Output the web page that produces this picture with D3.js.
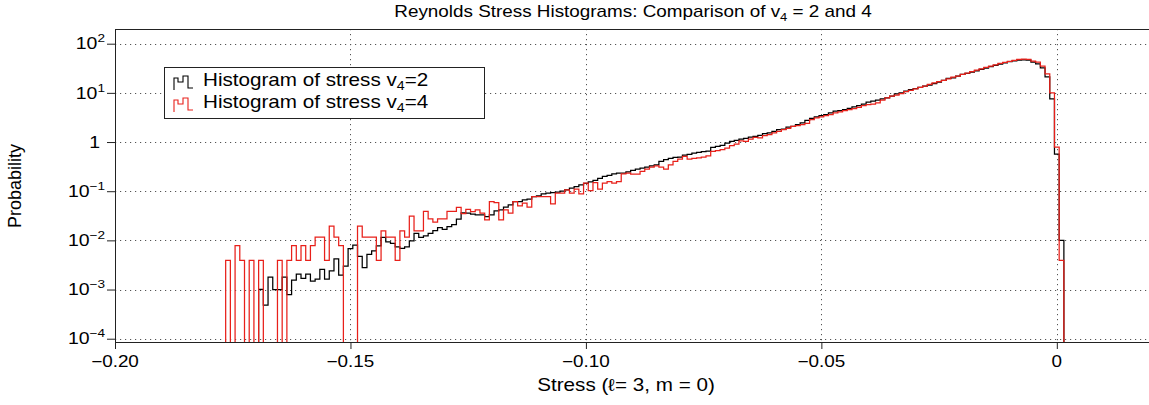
<!DOCTYPE html>
<html>
<head>
<meta charset="utf-8">
<script src="https://cdn.jsdelivr.net/npm/d3@7"></script>
<style>
body { margin: 0; background: #fff; }
text { font-family: "Liberation Sans", Arial, Helvetica, sans-serif; fill: #000; }
</style>
</head>
<body>
<svg width="1149" height="405"></svg>
<script>
// bins are 0.001 wide, centred on multiples of 0.001 (first bin centre -0.176)
var binStart = -0.1765;
var binWidth = 0.001;

// v4 = 2 (black), one value per bin
var stressV2 = [
  0, 0, 0, 0, 0, 0, 0, 0.00101, 0.00048, 0.00179, 0.001, 0.001, 0.00179, 0.00079,
  0.00155, 0.00206, 0.00168, 0.00206, 0.00148, 0.00162, 0.00257, 0.00162, 0.0024, 0.0042, 0.00197, 0.003, 0.0068, 0.008,
  0.0047, 0.0028, 0.0052, 0.0061, 0.0077, 0.0115, 0.0093, 0.0087, 0.0074, 0.0069, 0.0074, 0.0098,
  0.0138, 0.0115, 0.0123, 0.0138, 0.0158, 0.0182, 0.0167, 0.019, 0.021, 0.027, 0.0362, 0.0357,
  0.034, 0.033, 0.033, 0.0305, 0.033, 0.0398, 0.0417, 0.0473, 0.0527, 0.0617, 0.0617, 0.0667,
  0.0687, 0.078, 0.080, 0.0883, 0.0912, 0.094, 0.0955, 0.1, 0.106, 0.115, 0.1245, 0.1346,
  0.1445, 0.155, 0.167, 0.1816, 0.1995, 0.209, 0.226, 0.233, 0.233, 0.248, 0.264, 0.281, 0.294,
  0.309, 0.329, 0.344, 0.403, 0.437, 0.465, 0.486, 0.494, 0.543, 0.56, 0.597, 0.615,
  0.635, 0.655, 0.778, 0.817, 0.855, 0.955, 1.03, 1.08, 1.15, 1.19, 1.26, 1.31, 1.37,
  1.48, 1.53, 1.65, 1.79, 1.84, 2.0, 2.09, 2.26, 2.45, 2.75, 3.04, 3.24,
  3.44, 3.61, 3.91, 4.23, 4.36, 4.57, 4.86, 5.18, 5.51, 5.87, 6.46, 6.76, 7.08,
  7.55, 7.91, 8.55, 9.55, 10.0, 10.8, 11.7, 12.2, 12.9, 13.7, 14.3, 15.5,
  16.5, 17.9, 19.6, 20.2, 21.9, 23.7, 24.8, 26.4, 28.1, 29.9, 31.8, 34.0, 36.1, 38.5,
  40.9, 43.0, 45.0, 46.5, 46.8, 46.4, 42.3, 39.1, 32.4, 21.2, 7.55, 0.569, 0.01
];

// v4 = 4 (red), one value per bin
var stressV4 = [
  0.0039, 0, 0.0078, 0.0039, 0, 0.0039, 0, 0.0039, 0, 0, 0, 0.0039, 0, 0.0039,
  0.0078, 0.0039, 0.0078, 0.0039, 0.0078, 0.0117, 0.0117, 0.0039, 0.0195, 0.0117, 0.0078, 0, 0, 0,
  0.0195, 0.0117, 0.0117, 0.0117, 0.0039, 0.0156, 0.0117, 0.0117, 0.0039, 0.0156, 0.0117, 0.0312,
  0.0156, 0.0156, 0.039, 0.0273, 0.0234, 0.0273, 0.0273, 0.039, 0.039, 0.0468, 0.0351, 0.0429,
  0.0385, 0.0417, 0.0357, 0.0261, 0.0617, 0.0589, 0.0261, 0.0417, 0.0357, 0.0617, 0.0504, 0.057,
  0.0473, 0.078, 0.078, 0.078, 0.078, 0.0552, 0.0912, 0.0912, 0.1064, 0.0912, 0.11, 0.0883,
  0.1455, 0.1033, 0.15, 0.1096, 0.1455, 0.157, 0.1455, 0.157, 0.226, 0.233, 0.222, 0.222, 0.252,
  0.281, 0.309, 0.329, 0.309, 0.281, 0.344, 0.403, 0.45, 0.509, 0.45, 0.465, 0.479,
  0.494, 0.526, 0.646, 0.665, 0.698, 0.755, 0.841, 0.91, 1.06, 1.03, 1.15, 1.245, 1.21,
  1.35, 1.41, 1.53, 1.65, 1.79, 1.9, 2.09, 2.15, 2.26, 2.4, 2.86, 3.09,
  3.24, 3.44, 3.61, 3.91, 4.09, 4.36, 4.57, 4.79, 5.09, 5.51, 5.78, 5.87, 6.25,
  7.08, 7.91, 8.55, 8.95, 9.68, 10.6, 11.3, 12.1, 12.9, 13.7, 14.8, 16.0,
  17.0, 17.9, 19.3, 20.9, 21.9, 23.7, 25.2, 27.2, 29.0, 30.9, 32.9, 35.0, 37.2, 39.7,
  41.6, 43.7, 45.7, 47.9, 48.6, 47.9, 44.3, 42.3, 35.0, 24.4, 10.0, 0.79, 0.0039
];

var xMajorTicks = [-0.2, -0.15, -0.1, -0.05, 0];
var xTickLabels = ["\u22120.20", "\u22120.15", "\u22120.10", "\u22120.05", "0"];
var xGridTicks = [-0.15, -0.1, -0.05, 0];
var yExponents = [-4, -3, -2, -1, 0, 1, 2];
var legendValues = ["2", "4"];
var seriesColors = ["#000", "#e8201a"];

var width = 1149, height = 405;
var plotLeft = 115, plotRight = 1151, plotTop = 29, plotBottom = 342;
var SX = 1.18; // text in the picture is stretched sideways

var svg = d3.select("svg");

var x = d3.scaleLinear()
          .domain([-0.2, 0.02])
          .range([plotLeft, plotRight]);
var y = d3.scaleLog()
          .domain([Math.pow(10, -4.067), Math.pow(10, 2.299)])
          .range([plotBottom, plotTop]);

function stretched(sel, px, py){
  return sel.attr("x", 0).attr("y", 0)
            .attr("transform", "translate(" + px + "," + py + ") scale(" + SX + ",1)");
}

// grid
svg.append("g").selectAll("line")
   .data(yExponents)
   .enter().append("line")
   .attr("x1", plotLeft).attr("x2", width)
   .attr("y1", function(d){ return Math.round(y(Math.pow(10, d))) + 0.5; })
   .attr("y2", function(d){ return Math.round(y(Math.pow(10, d))) + 0.5; })
   .attr("stroke", "#555").attr("stroke-width", 1)
   .attr("stroke-dasharray", "1.2,3.8");
svg.append("g").selectAll("line")
   .data(xGridTicks)
   .enter().append("line")
   .attr("x1", function(d){ return Math.round(x(d)) + 0.5; })
   .attr("x2", function(d){ return Math.round(x(d)) + 0.5; })
   .attr("y1", plotTop).attr("y2", plotBottom)
   .attr("stroke", "#555").attr("stroke-width", 1)
   .attr("stroke-dasharray", "1.2,3.8");

// histograms
svg.append("clipPath").attr("id", "plotclip")
   .append("rect")
   .attr("x", plotLeft).attr("y", plotTop)
   .attr("width", plotRight - plotLeft).attr("height", plotBottom - plotTop);

function stepPoints(vals){
  var pts = [[binStart, 0]];
  vals.forEach(function(v, i){
    var x0 = binStart + i * binWidth;
    pts.push([x0, v]);
    pts.push([x0 + binWidth, v]);
  });
  pts.push([binStart + vals.length * binWidth, 0]);
  return pts;
}
var line = d3.line()
             .x(function(d){ return x(d[0]); })
             .y(function(d){ return d[1] > 0 ? y(d[1]) : plotBottom + 6; });

var plot = svg.append("g").attr("clip-path", "url(#plotclip)");
[stressV2, stressV4].forEach(function(s, i){
  plot.append("path")
      .attr("d", line(stepPoints(s)))
      .attr("fill", "none")
      .attr("stroke", seriesColors[i])
      .attr("stroke-width", 1.25)
      .attr("stroke-linejoin", "miter");
});

// axes
var minorY = [];
yExponents.concat([-5]).forEach(function(e){
  for (var m = 2; m <= 9; m++){
    var v = m * Math.pow(10, e);
    if (y(v) <= plotBottom && y(v) >= plotTop) minorY.push(v);
  }
});
var minorX = d3.range(-20, 3).map(function(i){ return i / 100; });

var yAxisG = svg.append("g").attr("transform", "translate(" + plotLeft + ",0)");
yAxisG.call(d3.axisLeft(y).tickValues(minorY).tickSize(4).tickSizeOuter(0).tickFormat(""));
yAxisG.call(d3.axisLeft(y).tickValues(yExponents.map(function(e){ return Math.pow(10, e); }))
                         .tickSize(8).tickSizeOuter(0).tickFormat(""));

var xAxisG = svg.append("g").attr("transform", "translate(0," + plotBottom + ")");
xAxisG.call(d3.axisBottom(x).tickValues(minorX).tickSize(4).tickSizeOuter(0).tickFormat(""));
xAxisG.call(d3.axisBottom(x).tickValues(xMajorTicks).tickSize(7).tickSizeOuter(0).tickFormat(""));

svg.selectAll(".domain, .tick line").attr("stroke", "#222");

svg.append("line")
   .attr("x1", plotLeft).attr("x2", width)
   .attr("y1", plotTop + 0.5).attr("y2", plotTop + 0.5)
   .attr("stroke", "#222");

// tick labels
yExponents.forEach(function(e){
  var t = stretched(svg.append("text"), e === 0 ? 100 : 105, y(Math.pow(10, e)) + 5.7)
            .attr("text-anchor", "end")
            .style("font-size", "16.5px");
  if (e === 0) {
    t.text("1");
  } else {
    t.append("tspan").text("10");
    t.append("tspan").attr("dy", -7).style("font-size", "11.5px")
     .text(e < 0 ? "\u2212" + (-e) : String(e));
  }
});

xMajorTicks.forEach(function(d, i){
  stretched(svg.append("text"), x(d), 367)
     .attr("text-anchor", "middle")
     .style("font-size", "16px")
     .text(xTickLabels[i]);
});

// titles
var title = stretched(svg.append("text"), 633, 17)
              .attr("text-anchor", "middle")
              .style("font-size", "16px");
title.append("tspan").text("Reynolds Stress Histograms: Comparison of v");
title.append("tspan").attr("dy", 4).style("font-size", "11px").text("4");
title.append("tspan").attr("dy", -4).text(" = 2 and 4");

stretched(svg.append("text"), 626, 391)
   .attr("text-anchor", "middle")
   .style("font-size", "17.5px")
   .text("Stress (\u2113= 3, m = 0)");

svg.append("text")
   .attr("transform", "translate(21,186) rotate(-90)")
   .attr("text-anchor", "middle")
   .style("font-size", "18px")
   .text("Probability");

// legend
var legend = svg.append("g");
legend.append("rect")
      .attr("x", 164.5).attr("y", 67.5)
      .attr("width", 320).attr("height", 51)
      .attr("fill", "#fff").attr("stroke", "#222");
legendValues.forEach(function(v, i){
  var yy = 86 + i * 22;
  legend.append("path")
        .attr("d", "M174," + (yy + 4) + "V" + (yy - 8) + "H178V" + (yy - 4) + "H183V" + (yy - 10) +
                   "H188V" + (yy + 2) + "H193")
        .attr("fill", "none")
        .attr("stroke", seriesColors[i])
        .attr("stroke-width", 1.1);
  var t = stretched(legend.append("text"), 203, yy).style("font-size", "17.5px");
  t.append("tspan").text("Histogram of stress v");
  t.append("tspan").attr("dy", 4).style("font-size", "12px").text("4");
  t.append("tspan").attr("dy", -4).text("=" + v);
});
</script>
</body>
</html>
